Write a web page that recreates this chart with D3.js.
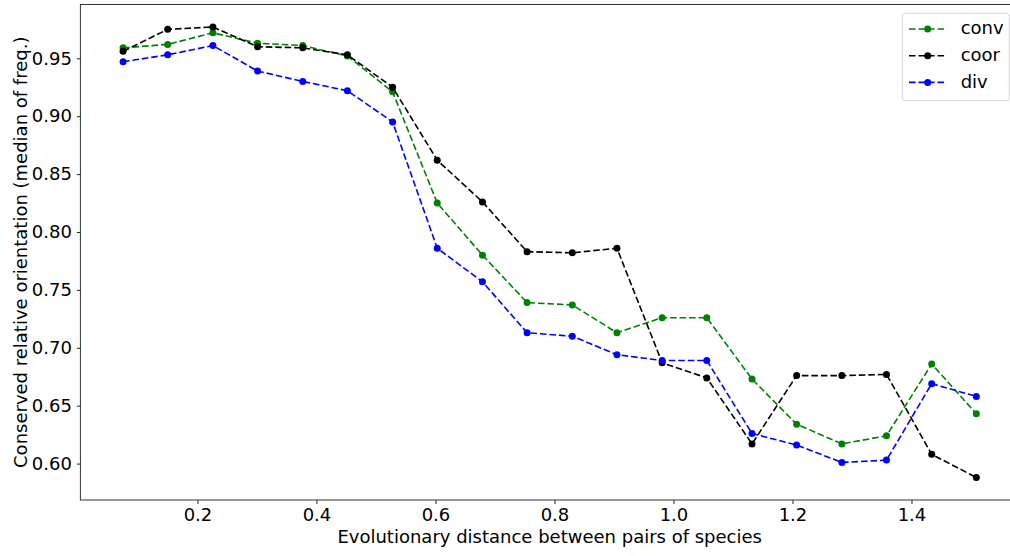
<!DOCTYPE html>
<html>
<head>
<meta charset="utf-8">
<script src="https://cdn.jsdelivr.net/npm/d3@7"></script>
<style>
  html, body { margin: 0; padding: 0; background: #fff; }
  svg { display: block; font-family: "DejaVu Sans", sans-serif; }
</style>
</head>
<body>
<svg id="chart" width="1010" height="556"></svg>
<script>
// ---- data ----
const distances = [0.075, 0.150, 0.226, 0.301, 0.377, 0.452, 0.528, 0.603, 0.679, 0.754,
                   0.830, 0.905, 0.981, 1.056, 1.132, 1.207, 1.283, 1.358, 1.434, 1.509];
const conv = [0.959, 0.962, 0.972, 0.963, 0.961, 0.952, 0.921, 0.825, 0.780, 0.739,
              0.737, 0.713, 0.726, 0.726, 0.673, 0.634, 0.617, 0.624, 0.686, 0.643];
const coor = [0.956, 0.975, 0.977, 0.960, 0.959, 0.953, 0.925, 0.862, 0.826, 0.783,
              0.782, 0.786, 0.687, 0.674, 0.617, 0.676, 0.676, 0.677, 0.608, 0.588];
const div  = [0.947, 0.953, 0.961, 0.939, 0.930, 0.922, 0.895, 0.786, 0.757, 0.713,
              0.710, 0.694, 0.689, 0.689, 0.626, 0.616, 0.601, 0.603, 0.669, 0.658];
const seriesNames = ["conv", "coor", "div"];
const xTicks = [0.2, 0.4, 0.6, 0.8, 1.0, 1.2, 1.4];
const yTicks = [0.60, 0.65, 0.70, 0.75, 0.80, 0.85, 0.90, 0.95];
const xLabel = "Evolutionary distance between pairs of species";
const yLabel = "Conserved relative orientation (median of freq.)";

// ---- layout ----
const colors = { conv: "#008000", coor: "#000000", div: "#0000ff" };
const seriesData = { conv, coor, div };
const plot = { left: 80.4, right: 1019, top: 4.5, bottom: 500 };
const FS = 18;

function padded(ext) {
  const m = (ext[1] - ext[0]) * 0.05;
  return [ext[0] - m, ext[1] + m];
}
const allY = conv.concat(coor, div);
const x = d3.scaleLinear().domain(padded(d3.extent(distances))).range([plot.left, plot.right]);
const y = d3.scaleLinear().domain(padded(d3.extent(allY))).range([plot.bottom, plot.top]);

const svg = d3.select("#chart");

// series
const line = d3.line().x((d, i) => x(distances[i])).y(d => y(d));
seriesNames.forEach(name => {
  const g = svg.append("g");
  g.append("path")
    .datum(seriesData[name])
    .attr("d", line)
    .attr("fill", "none")
    .attr("stroke", colors[name])
    .attr("stroke-width", 1.6)
    .attr("stroke-dasharray", "6.6,2.9");
  g.selectAll("circle")
    .data(seriesData[name])
    .join("circle")
    .attr("cx", (d, i) => x(distances[i]))
    .attr("cy", d => y(d))
    .attr("r", 3.5)
    .attr("fill", colors[name]);
});

// axes
const xAxis = svg.append("g")
  .attr("transform", `translate(0,${plot.bottom})`)
  .call(d3.axisBottom(x).tickValues(xTicks).tickFormat(d3.format(".1f")).tickSize(4).tickPadding(4).tickSizeOuter(0));
const yAxis = svg.append("g")
  .attr("transform", `translate(${plot.left},0)`)
  .call(d3.axisLeft(y).tickValues(yTicks).tickFormat(d3.format(".2f")).tickSize(3.5).tickPadding(5).tickSizeOuter(0));
[xAxis, yAxis].forEach(a => {
  a.select(".domain").remove();
  a.selectAll("line").attr("stroke", "#222").attr("stroke-width", 1);
  a.selectAll("text").attr("font-size", FS).attr("font-family", "DejaVu Sans").attr("fill", "#000");
});

// spines
svg.append("rect")
  .attr("x", plot.left).attr("y", plot.top)
  .attr("width", plot.right - plot.left).attr("height", plot.bottom - plot.top)
  .attr("fill", "none").attr("stroke", "#333").attr("stroke-width", 1);

// axis labels
svg.append("text")
  .attr("x", (plot.left + plot.right) / 2).attr("y", 542.7)
  .attr("text-anchor", "middle").attr("font-size", FS).text(xLabel);
svg.append("text")
  .attr("transform", `translate(27,${(plot.top + plot.bottom) / 2}) rotate(-90)`)
  .attr("text-anchor", "middle").attr("font-size", FS).text(yLabel);

// legend
const lg = svg.append("g").attr("transform", "translate(902.3,13.3)");
lg.append("rect")
  .attr("width", 107).attr("height", 87.4).attr("rx", 3)
  .attr("fill", "#fff").attr("fill-opacity", 0.8)
  .attr("stroke", "#d6d6d6").attr("stroke-width", 1);
seriesNames.forEach((name, i) => {
  const cy = 15.7 + i * 26.7;
  lg.append("line")
    .attr("x1", 6.7).attr("x2", 42.7).attr("y1", cy).attr("y2", cy)
    .attr("stroke", colors[name]).attr("stroke-width", 1.6).attr("stroke-dasharray", "6.6,2.9");
  lg.append("circle").attr("cx", 25.4).attr("cy", cy).attr("r", 3.5).attr("fill", colors[name]);
  lg.append("text").attr("x", 58.4).attr("y", cy + 5.3).attr("font-size", FS).text(name);
});
</script>
</body>
</html>
